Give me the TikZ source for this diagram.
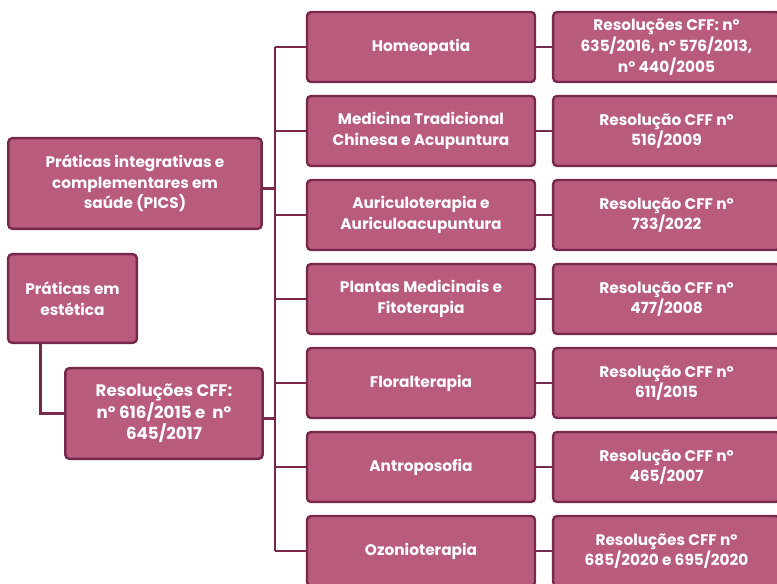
\documentclass[tikz,border=0pt]{standalone}
\usepackage{fontspec}
\setmainfont{Poppins}
\definecolor{fl}{HTML}{B85B7C}
\definecolor{bd}{HTML}{76294A}
\begin{document}
\begin{tikzpicture}[x=0.75pt,y=-0.75pt,
  box/.style={draw=bd, fill=fl, line width=1.8pt, rounded corners=3pt, text=white,
    font=\bfseries\fontsize{11.5}{15.5}\selectfont, align=center, inner sep=0pt},
  mid/.style={box, minimum width=171pt, minimum height=52.5pt},
  rgt/.style={box, minimum width=170pt, minimum height=52.5pt},
  link/.style={draw=bd, line width=1.6pt}]
\useasboundingbox (0,0) rectangle (777,584);
\coordinate (bus) at (275,0);
\node[box, minimum width=190pt, minimum height=68pt] (pics) at (135,183.5) {Práticas integrativas e\\complementares em\\saúde (PICS)};
\node[box, minimum width=96.5pt, minimum height=66.5pt] (est) at (72.5,298.5) {Práticas em\\estética};
\node[box, minimum width=148pt, minimum height=68pt, font=\bfseries\fontsize{12.5}{16}\selectfont] (res) at (164,413.5) {Resoluções CFF:\\nº 616/2015 e~ nº\\645/2017};
\node[mid] (m1) at (421,47) {Homeopatia};
\node[mid] (m2) at (421,131) {Medicina Tradicional\\Chinesa e Acupuntura};
\node[mid] (m3) at (421,215) {Auriculoterapia e\\Auriculoacupuntura};
\node[mid] (m4) at (421,299) {Plantas Medicinais e\\Fitoterapia};
\node[mid] (m5) at (421,383) {Floralterapia};
\node[mid] (m6) at (421,467) {Antroposofia};
\node[mid] (m7) at (421,551) {Ozonioterapia};
\node[rgt] (r1) at (666.5,47) {Resoluções CFF: nº\\635/2016, nº 576/2013,\\nº 440/2005};
\node[rgt] (r2) at (666.5,131) {Resolução CFF nº\\516/2009};
\node[rgt] (r3) at (666.5,215) {Resolução CFF nº\\733/2022};
\node[rgt] (r4) at (666.5,299) {Resolução CFF nº\\477/2008};
\node[rgt] (r5) at (666.5,383) {Resolução CFF nº\\611/2015};
\node[rgt] (r6) at (666.5,467) {Resolução CFF nº\\465/2007};
\node[rgt] (r7) at (666.5,551) {Resoluções CFF nº\\685/2020 e 695/2020};
\begin{scope}[on background layer/.try]
\draw[link] (m1.west -| bus) -- (m7.west -| bus);
\draw[link] ([yshift=-3.75pt]pics.east) -- ([yshift=-3.75pt]pics.east -| bus);
\draw[link] ([yshift=-3.75pt]res.east) -- ([yshift=-3.75pt]res.east -| bus);
\foreach \i in {1,...,7} {
  \draw[link] (m\i.west) -- (m\i.west -| bus);
  \draw[link] (m\i.east) -- (r\i.west);
}
\coordinate (estd) at ([xshift=-24pt]est.south);
\draw[link] (est.south -| estd) |- (res.west);
\end{scope}
\end{tikzpicture}
\end{document}
